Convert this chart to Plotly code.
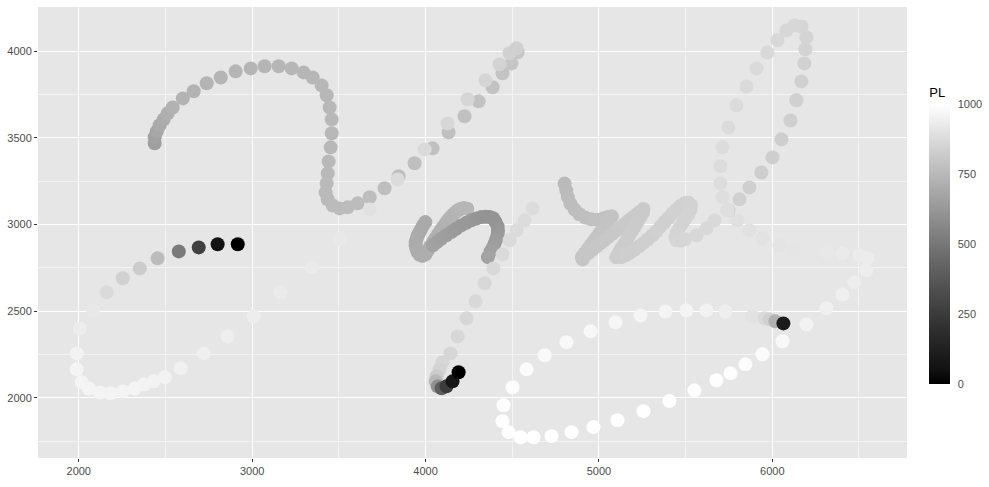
import numpy as np
import plotly.graph_objects as go

# ---- stroke A: upper S-curve
xA = [2438, 2438, 2450, 2467, 2490, 2513, 2542, 2600, 2663, 2738, 2819, 2905, 2992, 3072, 3153, 3228, 3297,
      3349, 3401, 3430, 3447, 3459, 3459, 3453, 3441, 3436, 3430, 3424, 3436, 3465, 3505, 3551, 3608, 3678,
      3764, 3845, 3937, 4041, 4133, 4225, 4306, 4387, 4444, 4496, 4531]
yA = [3468, 3503, 3537, 3572, 3606, 3641, 3675, 3727, 3768, 3814, 3848, 3883, 3900, 3912, 3912, 3900, 3877,
      3848, 3802, 3745, 3675, 3606, 3526, 3445, 3364, 3295, 3237, 3185, 3145, 3110, 3093, 3099, 3122, 3157,
      3209, 3278, 3353, 3439, 3531, 3624, 3710, 3791, 3872, 3929, 3993]
pA = [650, 665, 680, 695, 705, 715, 725, 730, 730, 732, 734, 735, 736, 737, 738, 740, 740,
      740, 742, 744, 745, 746, 748, 748, 750, 750, 752, 752, 754, 756, 758, 760, 762, 765,
      768, 770, 772, 775, 778, 780, 783, 786, 790, 795, 800]

# ---- stroke B: lower-left loop with dark start
xB = [2917, 2801, 2692, 2577, 2455, 2352, 2254, 2161, 2081, 2006, 1988, 1988, 2017, 2058, 2121, 2184, 2254,
      2323, 2375, 2432, 2496, 2588, 2721, 2859, 3009, 3165, 3343, 3505, 3678, 3839, 3995, 4127, 4243, 4346,
      4427, 4485, 4525]
yB = [2886, 2886, 2868, 2845, 2805, 2747, 2690, 2609, 2505, 2400, 2257, 2165, 2090, 2055, 2032, 2027, 2038,
      2055, 2078, 2096, 2119, 2171, 2257, 2355, 2470, 2609, 2753, 2914, 3087, 3260, 3433, 3583, 3722, 3831,
      3923, 3987, 4016]
pB = [0, 60, 270, 510, 760, 820, 840, 870, 920, 935, 955, 960, 960, 960, 962, 962, 962,
      960, 958, 955, 952, 948, 945, 940, 935, 930, 925, 920, 895, 875, 870, 862, 858, 852,
      845, 840, 835]

# ---- stroke C: centre hook ending dark
xC = [4617, 4571, 4525, 4485, 4444, 4392, 4341, 4289, 4237, 4185, 4144, 4098, 4081, 4064, 4058, 4070, 4093,
      4121, 4156, 4191]
yC = [3093, 3024, 2966, 2909, 2828, 2747, 2661, 2557, 2459, 2355, 2257, 2205, 2165, 2125, 2096, 2067, 2056,
      2067, 2096, 2148]
pC = [880, 878, 875, 872, 870, 868, 866, 864, 862, 860, 858, 856, 850, 820, 750, 600, 400,
      250, 80, 0]

# ---- stroke N1: left "(" and rising upper stroke of the "n"
xN1 = [3999, 3986, 3976, 3966, 3956, 3949, 3943, 3943, 3947, 3954, 3966, 3983, 4000, 4014, 4028, 4043, 4057,
       4071, 4086, 4100, 4115, 4129, 4143, 4158, 4172, 4187, 4202, 4220, 4241]
yN1 = [3014, 2995, 2976, 2957, 2938, 2918, 2899, 2880, 2861, 2842, 2826, 2819, 2828, 2851, 2875, 2899, 2920,
       2942, 2964, 2985, 3005, 3024, 3041, 3057, 3070, 3082, 3090, 3095, 3091]
pN1 = [695, 695, 696, 697, 698, 699, 700, 701, 702, 703, 705, 707, 709, 711, 713, 715, 717,
       719, 721, 723, 725, 727, 729, 731, 733, 735, 737, 739, 741]

# ---- stroke N2: darker arch of the "n"
xN2 = [4043, 4067, 4091, 4120, 4149, 4177, 4206, 4235, 4264, 4293, 4322, 4346, 4370, 4390, 4404, 4416, 4418,
       4416, 4407, 4398, 4387, 4375, 4360]
yN2 = [2880, 2899, 2918, 2938, 2957, 2976, 2995, 3010, 3024, 3034, 3043, 3045, 3043, 3036, 3015, 2989, 2964,
       2938, 2912, 2890, 2865, 2845, 2812]
pN2 = [665, 660, 655, 650, 645, 640, 635, 630, 625, 620, 615, 613, 611, 611, 613, 617, 623,
       630, 637, 645, 653, 660, 670]

# ---- stroke R: the "r u e" scrawl
xR = [4802, 4812, 4821, 4836, 4860, 4888, 4921, 4956, 4990, 5023, 5051, 5075,
      5057, 5040, 5023, 5005, 4988, 4971, 4953, 4936, 4919, 4902, 4906,
      4921, 4943, 4966, 4988, 5011, 5033, 5056, 5078, 5100, 5123, 5145, 5168, 5190, 5213, 5235, 5257,
      5253, 5238, 5223, 5208, 5192, 5177, 5162, 5146, 5130, 5115, 5100,
      5129, 5154, 5179, 5205, 5231, 5257, 5283, 5309, 5332, 5355, 5378, 5401, 5424, 5448, 5471, 5494,
      5517, 5531, 5528, 5517, 5499, 5482, 5465, 5450, 5442, 5448, 5471, 5496,
      5563, 5620, 5667]
yR = [3236, 3197, 3158, 3120, 3086, 3059, 3040, 3030, 3028, 3034, 3043, 3047,
      3024, 3000, 2977, 2953, 2929, 2906, 2882, 2859, 2835, 2811, 2799,
      2821, 2839, 2857, 2875, 2893, 2911, 2929, 2947, 2965, 2983, 3001, 3019, 3037, 3055, 3072, 3090,
      3066, 3040, 3015, 2989, 2964, 2939, 2913, 2888, 2863, 2837, 2811,
      2812, 2822, 2837, 2854, 2874, 2894, 2915, 2938, 2961, 2987, 3013, 3038, 3064, 3087, 3108, 3122,
      3125, 3111, 3085, 3059, 3033, 3007, 2981, 2955, 2929, 2909, 2906, 2915,
      2938, 2978, 3024]
pR = [755, 758, 761, 764, 767, 770, 773, 776, 779, 782, 785, 787,
      788, 789, 790, 791, 792, 793, 794, 795, 796, 797, 798,
      799, 800, 801, 802, 803, 804, 805, 806, 807, 808, 809, 810, 811, 812, 813, 814,
      815, 816, 817, 818, 819, 820, 821, 822, 823, 824, 825,
      826, 827, 828, 829, 830, 831, 832, 833, 834, 835, 836, 837, 838, 839, 840, 841,
      842, 843, 844, 845, 846, 847, 848, 849, 850, 852, 854, 856,
      860, 865, 868]

# ---- stroke E: right upper loop and tail
xE = [5747, 5811, 5868, 5937, 6001, 6053, 6105, 6139, 6168, 6185, 6191, 6197, 6168, 6128, 6082, 6030, 5972,
      5909, 5851, 5793, 5747, 5713, 5701, 5701, 5713, 5741, 5799, 5868, 5943, 6041, 6128, 6226, 6312, 6404,
      6502, 6549, 6543, 6474, 6404, 6312, 6197]
yE = [3082, 3145, 3214, 3300, 3387, 3491, 3600, 3716, 3825, 3929, 4010, 4079, 4142, 4148, 4119, 4062, 3992,
      3900, 3796, 3687, 3560, 3445, 3336, 3237, 3157, 3082, 3024, 2966, 2920, 2880, 2857, 2840, 2840, 2834,
      2822, 2805, 2736, 2667, 2597, 2517, 2424]
pE = [840, 835, 832, 830, 830, 830, 832, 834, 836, 840, 845, 850, 855, 860, 862, 865, 868,
      870, 872, 874, 876, 878, 880, 882, 885, 888, 892, 896, 900, 905, 910, 915, 920, 925,
      930, 932, 935, 938, 942, 948, 955]

# ---- stroke D: bottom-right loop with dark point
xD = [6059, 5943, 5845, 5759, 5678, 5551, 5407, 5257, 5107, 4969, 4842, 4727, 4623, 4548, 4479, 4444, 4450,
      4502, 4583, 4687, 4813, 4952, 5096, 5240, 5384, 5505, 5620, 5730, 5886, 5955, 5984, 6018, 6064]
yD = [2327, 2252, 2194, 2142, 2102, 2044, 1982, 1924, 1872, 1832, 1803, 1780, 1774, 1774, 1803, 1866, 1958,
      2062, 2165, 2246, 2321, 2384, 2436, 2476, 2499, 2505, 2505, 2499, 2470, 2459, 2453, 2442, 2430]
pD = [975, 985, 990, 992, 995, 998, 1000, 1000, 1000, 1000, 1000, 1000, 1000, 1000, 998, 995, 992,
      990, 985, 980, 975, 970, 968, 965, 962, 960, 955, 940, 900, 870, 840, 720, 100]

x_all = xA + xB + xN1 + xN2 + xR + xE + xD + xC
y_all = yA + yB + yN1 + yN2 + yR + yE + yD + yC
pl_all = pA + pB + pN1 + pN2 + pR + pE + pD + pC

pl_ticks = [0, 250, 500, 750, 1000]


def lab_gray(t):
    L = 100.0 * t
    fy = (L + 16) / 116
    Y = fy ** 3 if L > 8 else L / 903.3
    s = 1.055 * Y ** (1 / 2.4) - 0.055 if Y > 0.0031308 else 12.92 * Y
    g = int(round(255 * min(max(s, 0), 1)))
    return f"rgb({g},{g},{g})"


colorscale = [[float(t), lab_gray(t)] for t in np.linspace(0, 1, 21)]
FONT = "Liberation Sans, Arial, sans-serif"

fig = go.Figure()
fig.add_trace(go.Scatter(
    x=x_all, y=y_all, mode="markers",
    marker=dict(
        size=14, color=pl_all, colorscale=colorscale, cmin=0, cmax=1000,
        line=dict(width=0), opacity=1,
        colorbar=dict(
            title=dict(text="PL", side="top", font=dict(size=13, color="#000000", family=FONT)),
            thickness=21, lenmode="pixels", len=300,
            x=1.0245, xanchor="left", y=0.496, yanchor="middle",
            xpad=0, ypad=0, outlinewidth=0,
            tickmode="array", tickvals=pl_ticks,
            ticks="outside", ticklen=6, tickcolor="rgba(0,0,0,0)", tickwidth=1,
            tickfont=dict(size=11, color="#4d4d4d", family=FONT),
        ),
    ),
    hoverinfo="skip", showlegend=False,
))

axis_common = dict(
    showline=False, zeroline=False, ticks="outside", ticklen=3, tickwidth=1, tickcolor="#333333",
    gridcolor="#FFFFFF", gridwidth=1.2,
    tickfont=dict(size=11, color="#4d4d4d", family=FONT),
)

fig.update_layout(
    width=989, height=487,
    margin=dict(l=38, r=81, t=7, b=29),
    paper_bgcolor="white", plot_bgcolor="#E6E6E6",
    xaxis=dict(range=[1765, 6777], tickmode="linear", tick0=0, dtick=1000,
               minor=dict(dtick=500, tick0=0, showgrid=True, gridcolor="#F3F3F3", gridwidth=0.6),
               **axis_common),
    yaxis=dict(range=[1654, 4254], tickmode="linear", tick0=0, dtick=500,
               minor=dict(dtick=250, tick0=0, showgrid=True, gridcolor="#F3F3F3", gridwidth=0.6),
               **axis_common),
)

fig.write_html("out.html")
